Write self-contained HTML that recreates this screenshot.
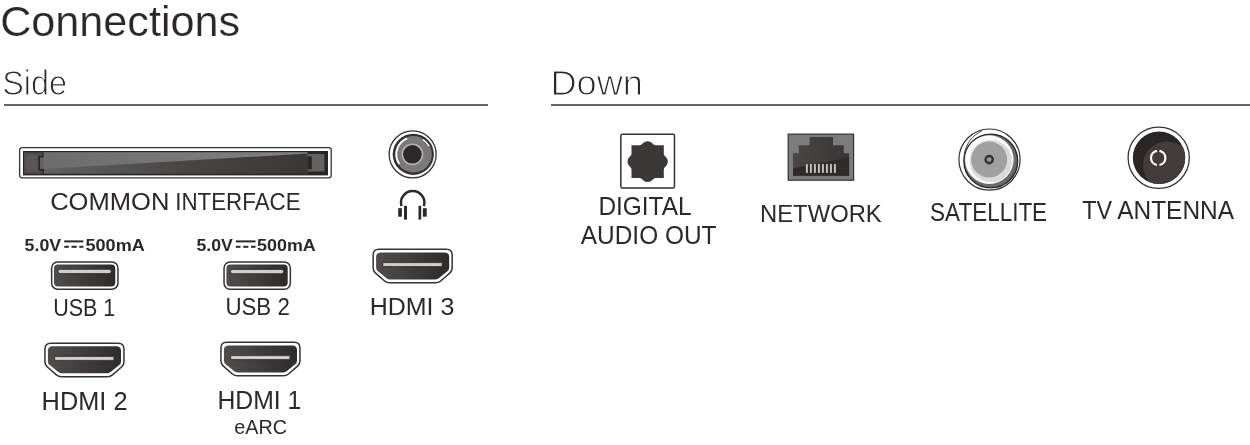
<!DOCTYPE html>
<html><head><meta charset="utf-8"><style>
html,body{margin:0;padding:0;background:#fff;width:1250px;height:445px;overflow:hidden}
svg{display:block;will-change:transform}
text{font-family:"Liberation Sans",sans-serif;fill:#2d2828}
</style></head><body>
<svg width="1250" height="445" viewBox="0 0 1250 445">
<rect x="4" y="104" width="484" height="2" fill="#666"/>
<rect x="551" y="104" width="699" height="2" fill="#666"/>
<text x="0.17" y="35.60" font-weight="400" font-size="42.5" textLength="239.92" lengthAdjust="spacingAndGlyphs" stroke="#fff" stroke-width="0.2">Connections</text>
<text x="2.15" y="94.80" font-weight="400" font-size="35.0" textLength="64.97" lengthAdjust="spacingAndGlyphs" stroke="#fff" stroke-width="1.0">Side</text>
<text x="550.45" y="94.80" font-weight="400" font-size="34.5" textLength="92.58" lengthAdjust="spacingAndGlyphs" stroke="#fff" stroke-width="1.0">Down</text>
<text x="50.17" y="210.00" font-weight="400" font-size="24.71" textLength="119.18" lengthAdjust="spacingAndGlyphs">COMMON</text>
<text x="175.19" y="210.00" font-weight="400" font-size="24.71" textLength="125.39" lengthAdjust="spacingAndGlyphs">INTERFACE</text>
<text x="53.16" y="315.70" font-weight="400" font-size="24.71" textLength="62.17" lengthAdjust="spacingAndGlyphs">USB 1</text>
<text x="225.43" y="315.40" font-weight="400" font-size="23.84" textLength="64.39" lengthAdjust="spacingAndGlyphs">USB 2</text>
<text x="369.73" y="315.40" font-weight="400" font-size="24.13" textLength="84.56" lengthAdjust="spacingAndGlyphs">HDMI 3</text>
<text x="41.62" y="409.80" font-weight="400" font-size="25.58" textLength="85.88" lengthAdjust="spacingAndGlyphs">HDMI 2</text>
<text x="217.44" y="408.90" font-weight="400" font-size="25.29" textLength="83.81" lengthAdjust="spacingAndGlyphs">HDMI 1</text>
<text x="234.13" y="434.00" font-weight="400" font-size="20.49" textLength="52.90" lengthAdjust="spacingAndGlyphs">eARC</text>
<text x="24.63" y="250.60" font-weight="700" font-size="16.6" textLength="36.52" lengthAdjust="spacingAndGlyphs">5.0V</text>
<text x="85.51" y="250.60" font-weight="700" font-size="16.6" textLength="59.26" lengthAdjust="spacingAndGlyphs">500mA</text>
<text x="196.44" y="250.60" font-weight="700" font-size="16.6" textLength="36.31" lengthAdjust="spacingAndGlyphs">5.0V</text>
<text x="257.02" y="250.60" font-weight="700" font-size="16.6" textLength="58.75" lengthAdjust="spacingAndGlyphs">500mA</text>
<text x="598.38" y="214.90" font-weight="400" font-size="25.44" textLength="93.24" lengthAdjust="spacingAndGlyphs">DIGITAL</text>
<text x="580.80" y="243.90" font-weight="400" font-size="25.0" textLength="135.69" lengthAdjust="spacingAndGlyphs">AUDIO OUT</text>
<text x="760.06" y="221.80" font-weight="400" font-size="24.56" textLength="121.69" lengthAdjust="spacingAndGlyphs">NETWORK</text>
<text x="930.10" y="221.10" font-weight="400" font-size="25.0" textLength="117.02" lengthAdjust="spacingAndGlyphs">SATELLITE</text>
<text x="1082.27" y="219.30" font-weight="400" font-size="25.15" textLength="29.86" lengthAdjust="spacingAndGlyphs">TV</text>
<text x="1117.20" y="219.30" font-weight="400" font-size="25.15" textLength="116.84" lengthAdjust="spacingAndGlyphs">ANTENNA</text>
<defs>
<linearGradient id="ciLow" x1="0" y1="0" x2="1" y2="0">
 <stop offset="0" stop-color="#636161"/><stop offset="0.6" stop-color="#474343"/><stop offset="1" stop-color="#3b3737"/>
</linearGradient>
<linearGradient id="ciHigh" x1="0" y1="0" x2="1" y2="0">
 <stop offset="0" stop-color="#6c6c6c"/><stop offset="1" stop-color="#828282"/>
</linearGradient>
<linearGradient id="usbg" x1="0" y1="0" x2="1" y2="0">
 <stop offset="0" stop-color="#514d4d"/><stop offset="1" stop-color="#2f2b2b"/>
</linearGradient>
<linearGradient id="rjg" x1="0" y1="0" x2="1" y2="0">
 <stop offset="0" stop-color="#4a4646"/><stop offset="1" stop-color="#3a3636"/>
</linearGradient>
<clipPath id="tvclip"><circle cx="1159" cy="157.8" r="26.2"/></clipPath>


</defs>
<!-- CI slot -->
<rect x="19.6" y="147.6" width="311.6" height="30.2" rx="2.5" fill="#fff" stroke="#3a3636" stroke-width="1.3"/>
<rect x="23" y="151" width="305" height="24.4" fill="#2a2626"/>
<rect x="24" y="152.3" width="19.6" height="21.5" fill="#4f4b4b"/>
<rect x="26.2" y="154.6" width="11.5" height="17" fill="#5a5656"/>
<path d="M43.6,152.3 H308 V173.8 H43.6 V169.8 H39.6 V156.4 H43.6 Z" fill="url(#ciLow)"/>
<path d="M43.2,152.3 V156.4 H39.2 V169.8 H43.2 V173.8" fill="none" stroke="#2a2626" stroke-width="1.5"/>
<polygon points="43.6,152.3 307.6,152.3 307.6,153.6 43.6,169" fill="url(#ciHigh)"/>
<path d="M307.6,154 H324.4 V171.6 H307.6 V169.3 H311.8 V156.3 H307.6 Z" fill="#666262"/>
<!-- headphone jack -->
<circle cx="412.65" cy="154.3" r="23.5" fill="#fff" stroke="#333" stroke-width="1.3"/>
<circle cx="413.3" cy="154.3" r="20.6" fill="#363131"/>
<circle cx="413.6" cy="154.3" r="18.2" fill="#7a7878"/>
<path d="M407.12,138.26 A17.3,17.3 0 0 0 399.26,163.97" fill="none" stroke="#fff" stroke-width="1.9"/>
<path d="M429.05,146.08 A17.5,17.5 0 0 0 422.87,139.46" fill="none" stroke="#fff" stroke-width="1.3"/>
<circle cx="412.4" cy="154.3" r="10.9" fill="#b3b3b3"/>
<circle cx="412.4" cy="154.3" r="9.3" fill="#2e2929"/>
<!-- headphones -->
<path d="M401.51,206.12 A11.7,11.7 0 1 1 423.89,206.12" fill="none" stroke="#2d2828" stroke-width="2.5"/>
<rect x="398.2" y="208.2" width="3.7" height="8.5" fill="#2d2828"/>
<rect x="404" y="205.8" width="3" height="13.8" fill="#2d2828"/>
<rect x="418.5" y="205.8" width="2.7" height="13.8" fill="#2d2828"/>
<rect x="422.9" y="208.2" width="3.8" height="8.5" fill="#2d2828"/>
<!-- DC symbols -->
<rect x="64.2" y="240.4" width="19.2" height="2" fill="#2d2828"/>
<rect x="64.2" y="245.8" width="4.7" height="2" fill="#2d2828"/>
<rect x="71.5" y="245.8" width="5.2" height="2" fill="#2d2828"/>
<rect x="79.3" y="245.8" width="4.1" height="2" fill="#2d2828"/>
<rect x="235.8" y="240.4" width="19.7" height="2" fill="#2d2828"/>
<rect x="235.8" y="245.8" width="4.7" height="2" fill="#2d2828"/>
<rect x="243.2" y="245.8" width="5.2" height="2" fill="#2d2828"/>
<rect x="251" y="245.8" width="4.5" height="2" fill="#2d2828"/>
<!-- USB -->
<g transform="translate(50.9,261.2)">
 <rect x="0.75" y="0.75" width="66.3" height="27.2" rx="6" fill="#fff" stroke="#333" stroke-width="1.5"/>
 <rect x="3.1" y="3.2" width="61.3" height="22.1" rx="4" fill="url(#usbg)"/>
 <rect x="7.1" y="8.1" width="53.3" height="4.3" rx="2.1" fill="#cfcfcf" stroke="#2a2626" stroke-width="0.8"/>
</g>
<g transform="translate(223.3,261.3)">
 <rect x="0.75" y="0.75" width="66.3" height="27.2" rx="6" fill="#fff" stroke="#333" stroke-width="1.5"/>
 <rect x="3.1" y="3.2" width="61.3" height="22.1" rx="4" fill="url(#usbg)"/>
 <rect x="7.1" y="8.1" width="53.3" height="4.3" rx="2.1" fill="#cfcfcf" stroke="#2a2626" stroke-width="0.8"/>
</g>
<!-- HDMI -->
<g transform="translate(372.4,248.6)">
 <path d="M6.5,0.75 H74 Q79.75,0.75 79.75,6.5 V19.5 Q79.75,22.5 77.6,24.3 L68.6,32.2 Q66.2,34.25 63.2,34.25 H17.3 Q14.3,34.25 11.9,32.2 L2.9,24.3 Q0.75,22.5 0.75,19.5 V6.5 Q0.75,0.75 6.5,0.75 Z" fill="#fff" stroke="#333" stroke-width="1.5"/>
 <path d="M8.5,3.9 H72 Q76.8,3.9 76.8,8.5 V19 Q76.8,21.2 75,22.7 L66.4,29.6 Q64.8,30.9 62.4,30.9 H18.1 Q15.7,30.9 14.1,29.6 L5.5,22.7 Q3.7,21.2 3.7,19 V8.5 Q3.7,3.9 8.5,3.9 Z" fill="url(#usbg)"/>
 <rect x="10.5" y="14" width="59.2" height="4" rx="0.8" fill="#cfcfcf" stroke="#2a2626" stroke-width="0.8"/>
</g>
<g transform="translate(44.2,342.4)">
 <path d="M6.5,0.75 H74 Q79.75,0.75 79.75,6.5 V19.5 Q79.75,22.5 77.6,24.3 L68.6,32.2 Q66.2,34.25 63.2,34.25 H17.3 Q14.3,34.25 11.9,32.2 L2.9,24.3 Q0.75,22.5 0.75,19.5 V6.5 Q0.75,0.75 6.5,0.75 Z" fill="#fff" stroke="#333" stroke-width="1.5"/>
 <path d="M8.5,3.9 H72 Q76.8,3.9 76.8,8.5 V19 Q76.8,21.2 75,22.7 L66.4,29.6 Q64.8,30.9 62.4,30.9 H18.1 Q15.7,30.9 14.1,29.6 L5.5,22.7 Q3.7,21.2 3.7,19 V8.5 Q3.7,3.9 8.5,3.9 Z" fill="url(#usbg)"/>
 <rect x="10.5" y="14" width="59.2" height="4" rx="0.8" fill="#cfcfcf" stroke="#2a2626" stroke-width="0.8"/>
</g>
<g transform="translate(220.2,341.6)">
 <path d="M6.5,0.75 H74 Q79.75,0.75 79.75,6.5 V19.5 Q79.75,22.5 77.6,24.3 L68.6,32.2 Q66.2,34.25 63.2,34.25 H17.3 Q14.3,34.25 11.9,32.2 L2.9,24.3 Q0.75,22.5 0.75,19.5 V6.5 Q0.75,0.75 6.5,0.75 Z" fill="#fff" stroke="#333" stroke-width="1.5"/>
 <path d="M8.5,3.9 H72 Q76.8,3.9 76.8,8.5 V19 Q76.8,21.2 75,22.7 L66.4,29.6 Q64.8,30.9 62.4,30.9 H18.1 Q15.7,30.9 14.1,29.6 L5.5,22.7 Q3.7,21.2 3.7,19 V8.5 Q3.7,3.9 8.5,3.9 Z" fill="url(#usbg)"/>
 <rect x="10.5" y="14" width="59.2" height="4" rx="0.8" fill="#cfcfcf" stroke="#2a2626" stroke-width="0.8"/>
</g>
<!-- Optical -->
<rect x="620.85" y="134.25" width="53.6" height="53.7" rx="1.5" fill="#fff" stroke="#333" stroke-width="1.5"/>
<path d="M631.5,145.2 H639.5 C642.5,145.2 643,141.2 647.65,141.2 C652.3,141.2 652.8,145.2 655.8,145.2 H663.8 V153.4 C663.8,156.4 667.8,156.9 667.8,161.55 C667.8,166.2 663.8,166.7 663.8,169.7 V177.9 H655.8 C652.8,177.9 652.3,181.9 647.65,181.9 C643,181.9 642.5,177.9 639.5,177.9 H631.5 V169.7 C631.5,166.7 627.5,166.2 627.5,161.55 C627.5,156.9 631.5,156.4 631.5,153.4 Z" fill="#3d3838"/>
<!-- RJ45 -->
<rect x="788.2" y="134.1" width="65.4" height="46.1" fill="#7d7b7b" stroke="#333" stroke-width="1.2"/>
<path d="M809.6,137.1 H833 V145.2 H843.7 V153.3 H849.1 V175.8 H793 V153.3 H798.8 V145.2 H809.6 Z" fill="url(#rjg)"/>
<polygon points="793,168.4 849.1,157.6 849.1,175.8 793,175.8" fill="#2f2b2b"/>
<g fill="#d6d6d6" stroke="#1f1c1c" stroke-width="0.5"><rect x="805.80" y="163.8" width="2.2" height="9.3"/><rect x="809.81" y="163.8" width="2.2" height="9.3"/><rect x="813.82" y="163.8" width="2.2" height="9.3"/><rect x="817.83" y="163.8" width="2.2" height="9.3"/><rect x="821.84" y="163.8" width="2.2" height="9.3"/><rect x="825.85" y="163.8" width="2.2" height="9.3"/><rect x="829.86" y="163.8" width="2.2" height="9.3"/><rect x="833.87" y="163.8" width="2.2" height="9.3"/></g>
<!-- Satellite -->
<circle cx="989.5" cy="159.6" r="30.6" fill="#fff" stroke="#333" stroke-width="1.2"/>
<path d="M964.2,154 Q967,138 982,130.6" fill="none" stroke="#333" stroke-width="0.9"/>
<circle cx="990.8" cy="161.0" r="26.9" fill="#6a6a6a" stroke="#2a2a2a" stroke-width="1.4"/>
<circle cx="989.3" cy="159.6" r="24.3" fill="#fcfcfc"/>
<circle cx="990.8" cy="161.1" r="21.2" fill="#dadada"/>
<circle cx="989.2" cy="159.6" r="18" fill="#a0a0a0"/>
<circle cx="989.2" cy="159.6" r="3.6" fill="#999" stroke="#333" stroke-width="2.4"/>
<!-- TV antenna -->
<circle cx="1158.7" cy="157.8" r="30.6" fill="#fff" stroke="#333" stroke-width="1.3"/>
<circle cx="1159" cy="157.8" r="26.2" fill="#2b2626"/>
<circle cx="1167" cy="165.5" r="24" fill="#423c3c" clip-path="url(#tvclip)"/>
<path d="M1159.45,150.81 A7.2,7.2 0 0 1 1159.45,164.99" fill="none" stroke="#fff" stroke-width="2.2"/>
<path d="M1156.95,164.99 A7.2,7.2 0 0 1 1156.95,150.81" fill="none" stroke="#fff" stroke-width="2.2"/>

</svg>
</body></html>
